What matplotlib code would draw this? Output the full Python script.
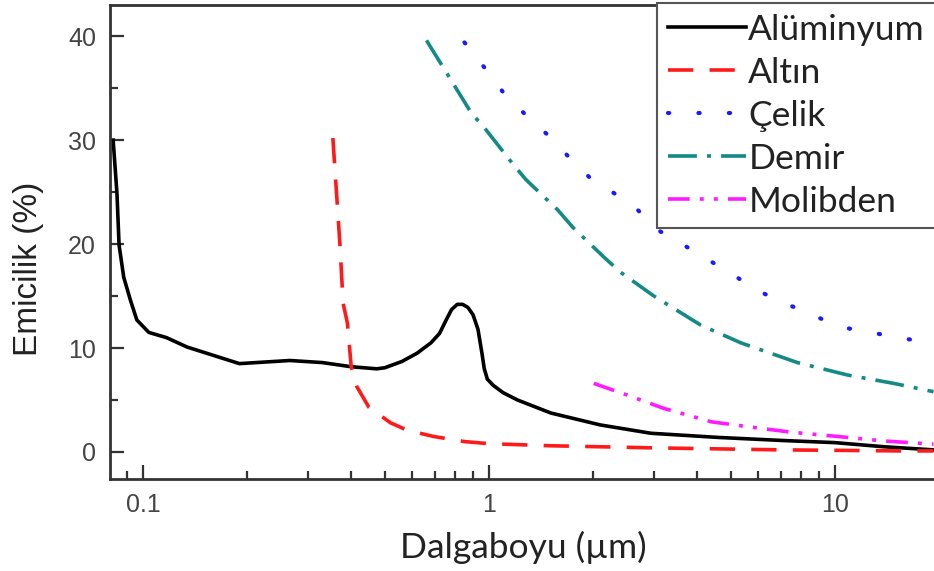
import matplotlib.pyplot as plt
from matplotlib.ticker import LogLocator, FixedLocator, NullFormatter

# ---- data ----
al_x = [0.082, 0.0841, 0.0853, 0.088, 0.092, 0.096, 0.104, 0.117, 0.134, 0.19, 0.266,
        0.33, 0.40, 0.474, 0.5, 0.56, 0.62, 0.68, 0.72, 0.75, 0.78, 0.81, 0.84, 0.87,
        0.90, 0.93, 0.955, 0.97, 0.99, 1.03, 1.1, 1.21, 1.51, 2.1, 2.94, 4.6, 7.1, 10,
        13.9, 19.3]
al_y = [30.0, 24.9, 19.9, 16.8, 14.6, 12.7, 11.5, 11.0, 10.1, 8.5, 8.8,
        8.6, 8.2, 8.0, 8.1, 8.7, 9.5, 10.5, 11.4, 12.6, 13.7, 14.2, 14.2, 13.9,
        13.2, 11.8, 9.5, 8.0, 7.0, 6.4, 5.7, 5.0, 3.75, 2.6, 1.8, 1.4, 1.1, 0.9,
        0.5, 0.2]

au_x = [0.354, 0.371, 0.379, 0.39, 0.40, 0.415, 0.45, 0.52, 0.58, 0.69, 0.85, 1.0,
        1.5, 2.94, 7.1, 15.5, 19.3]
au_y = [30.2, 20.0, 14.3, 12.4, 8.2, 6.3, 4.3, 2.8, 2.1, 1.5, 1.0, 0.8,
        0.6, 0.4, 0.2, 0.1, 0.1]

steel_x = [0.85, 0.97, 1.1, 1.28, 1.48, 1.70, 1.97, 2.30, 2.69, 3.1, 3.66, 4.3, 5.0,
           5.8, 6.8, 7.95, 9.3, 10.9, 12.7, 14.8, 17.3, 19.3]
steel_y = [39.4, 37.0, 34.6, 32.4, 30.5, 28.4, 26.3, 24.9, 23.3, 21.3, 19.9, 18.5, 17.2,
           15.8, 14.6, 13.7, 12.7, 11.9, 11.5, 11.1, 10.7, 10.5]

fe_x = [0.66, 0.77, 0.89, 0.97, 1.18, 1.28, 1.58, 1.75, 2.15, 2.4, 3.0, 4.1, 5.35,
        7.8, 10.9, 14.8, 19.3]
fe_y = [39.6, 36.0, 32.6, 31.2, 27.6, 26.2, 23.3, 21.6, 18.75, 17.3, 15.0, 12.2, 10.5,
        8.6, 7.4, 6.6, 5.8]

mo_x = [2.01, 2.5, 3.2, 4.4, 5.7, 7.5, 10.5, 14, 19.3]
mo_y = [6.6, 5.5, 4.2, 2.9, 2.4, 1.9, 1.45, 1.05, 0.75]

labels = ["Alüminyum", "Altın", "Çelik", "Demir", "Molibden"]

# ---- figure ----
fig = plt.figure(figsize=(9.34, 5.71), dpi=100)
ax = fig.add_axes([110 / 934, 1 - 479 / 571, 1 - 110 / 934 + 0.002, 474 / 571])

lw = 2.6
ax.plot(al_x, al_y, color="black", lw=lw, label=labels[0])
ax.plot(au_x, au_y, color="#ff1a1a", lw=lw, linestyle=(0, (7, 4.5)), label=labels[1])
ax.plot(steel_x, steel_y, color="#1a1aff", lw=lw + 0.4, linestyle=(0, (0.3, 7)),
        dash_capstyle="round", label=labels[2])
ax.plot(fe_x, fe_y, color="#138a85", lw=lw, linestyle=(0, (8, 2.8, 1.1, 2.8)),
        label=labels[3])
ax.plot(mo_x, mo_y, color="#ff1aff", lw=lw, linestyle=(0, (6, 2.8, 1.1, 2.8, 1.1, 2.8)),
        label=labels[4])

ax.set_xscale("log")
ax.set_xlim(0.0803, 19.6)
ax.set_ylim(-2.6, 43)

ax.xaxis.set_major_locator(FixedLocator([0.1, 1, 10]))
ax.set_xticklabels(["0.1", "1", "10"])
ax.xaxis.set_minor_locator(LogLocator(base=10, subs=range(2, 10)))
ax.xaxis.set_minor_formatter(NullFormatter())
ax.set_yticks([0, 10, 20, 30, 40])
ax.set_yticks([5, 15, 25, 35], minor=True)

for s in ax.spines.values():
    s.set_color("#333333")
    s.set_linewidth(2)
ax.spines["right"].set_visible(False)

ax.tick_params(which="both", direction="in", top=False, right=False,
               color="#333333", width=1.6, labelcolor="#444444")
ax.tick_params(which="major", length=10, labelsize=18, pad=10)
ax.tick_params(which="minor", length=6)
for t in ax.get_xticklabels() + ax.get_yticklabels():
    t.set_fontfamily("Liberation Sans")

ax.set_xlabel("Dalgaboyu (µm)", fontfamily="Lato", fontsize=25.5, color="#222222",
              labelpad=10)
ax.set_ylabel("Emicilik (%)", fontfamily="Liberation Sans", fontsize=24,
              color="#222222")
ax.yaxis.set_label_coords(-0.080, 0.443)

leg = ax.legend(loc="upper left", bbox_to_anchor=(657 / 934, 1 - 3 / 571),
                bbox_transform=fig.transFigure, borderaxespad=0,
                prop={"family": "Lato", "size": 25.5}, handlelength=2.2,
                handletextpad=0.08, labelspacing=0.31, borderpad=0.3,
                fancybox=False, framealpha=1, edgecolor="#555555")
leg.get_frame().set_linewidth(1.5)
for t in leg.get_texts():
    t.set_color("#222222")

fig.savefig("out.png", dpi=100)
